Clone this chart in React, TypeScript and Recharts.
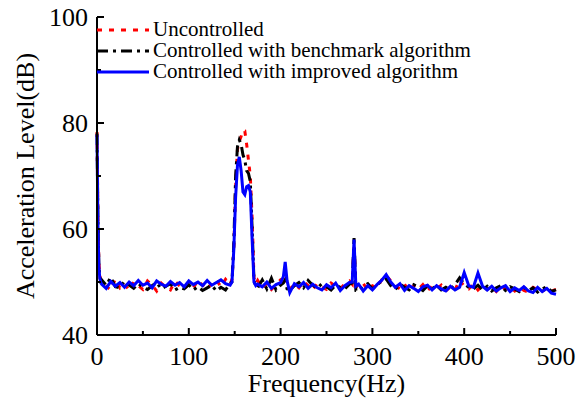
import React from 'react';
import { LineChart, Line, XAxis, YAxis, Legend } from 'recharts';

// frequency grid (Hz), denser around the peaks
const freqs = [
  0, 1, 2, 3, 4,
  5, 10, 15, 20, 25, 30, 35, 40, 45, 50, 55, 60, 65, 70, 75, 80, 85, 90, 95, 100, 105, 110, 115, 120, 125, 130, 135, 140, 145,
  147, 149, 151, 153, 155, 157, 159, 161, 163, 165, 167, 169, 171, 173,
  175, 180, 185, 190, 195, 200,
  203, 205, 207,
  210, 215, 220, 225, 230, 235, 240, 245, 250, 255, 260, 265, 270, 275,
  278, 280, 282,
  285, 290, 295, 300, 305, 310, 315, 320, 325, 330, 335, 340, 345, 350, 355, 360, 365, 370, 375, 380, 385, 390, 395, 400,
  405, 410, 415, 420, 425, 430, 435, 440, 445, 450, 455, 460, 465, 470, 475, 480, 485, 490, 495, 500,
];

const uncontrolled = [
  78.3, 63, 54, 51.3, 50.5,
  49.8, 49.2, 48.5, 50.6, 48.9, 49.7, 48.4, 50.0, 49.3, 48.6, 50.2, 49.4, 48.3, 49.8, 49.0, 48.5, 50.1, 49.3, 48.7, 49.7, 48.9, 50.3, 49.4, 48.6, 49.8, 50.4, 49.1, 50.5, 49.5,
  50.5, 56, 68, 75, 76.5, 77.5, 78.6, 78.5, 76, 73, 70, 62, 50.8, 49.6,
  50.3, 48.9, 49.7, 48.6, 49.5, 50.4,
  50.2, 51.2, 49.6,
  48.6, 49.6, 48.9, 50.1, 49.3, 48.5, 49.7, 49.0, 48.6, 49.8, 49.2, 48.7, 49.7, 50.2,
  49.6, 57.2, 49.3,
  49.0, 49.7, 48.5, 49.3, 48.9, 50.4, 51.2, 50.2, 49.4, 48.7, 49.6, 48.3, 49.3, 48.6, 49.5, 48.4, 49.2, 48.7, 49.4, 48.3, 49.1, 48.5, 50.4, 49.2,
  48.7, 49.6, 48.5, 49.3, 48.6, 49.1, 48.2, 49.2, 48.6, 49.0, 48.3, 49.1, 48.4, 48.1, 49.0, 48.5, 48.2, 48.9, 48.3, 48.6,
];

const benchmark = [
  78, 62, 53.5, 51, 50.2,
  50.4, 49.4, 50.9, 49.1, 48.9, 50.2, 49.4, 48.8, 49.7, 49.0, 48.6, 49.3, 49.9, 48.7, 49.2, 49.7, 48.5, 49.0, 48.7, 49.5, 48.5, 49.1, 48.4, 48.9, 49.4, 48.3, 49.0, 48.5, 49.7,
  50, 57, 70, 75.5, 76.8, 76, 74, 73, 71, 70.5, 69, 60, 50.3, 49.2,
  48.9, 50.4, 48.7, 50.7, 48.5, 49.4,
  49.8, 50.4, 48.7,
  48.4, 49.3, 49.9, 48.9, 50.3, 49.4, 48.8, 49.7, 49.1, 48.5, 49.4, 49.0, 48.7, 49.6,
  49.8, 58.3, 48.4,
  48.3, 49.2, 49.7, 48.7, 49.4, 50.2, 50.6, 49.3, 48.6, 49.6, 49.0, 48.5, 49.5, 49.0, 48.4, 49.3, 48.7, 49.4, 48.5, 49.0, 48.6, 49.5, 50.8, 49.6,
  49.0, 48.7, 49.4, 48.5, 49.2, 48.3, 48.9, 49.3, 48.4, 49.1, 48.7, 48.2, 49.0, 48.4, 48.9, 48.1, 48.7, 49.1, 48.2, 48.5,
];

const improved = [
  77.8, 61, 53, 50.8, 50.0,
  49.6, 48.8, 50.1, 49.2, 49.9, 49.0, 50.0, 49.3, 50.3, 49.4, 49.8, 48.9, 50.2, 49.6, 49.2, 50.1, 49.4, 49.9, 49.1, 50.2, 49.5, 50.0, 49.3, 50.3, 49.4, 49.9, 50.4, 49.7, 49.4,
  50, 56, 66, 72, 73.6, 71, 67, 66.5, 68, 68.2, 67, 58, 50.0, 49.3,
  49.6, 49.1, 50.0, 48.8, 49.5, 49.9,
  51.0, 53.8, 50.3,
  48.0, 49.7, 49.1, 49.9, 48.8, 49.6, 48.9, 48.5, 49.5, 48.9, 49.8, 48.4, 49.3, 49.9,
  50.0, 58.0, 49.2,
  49.6, 48.3, 49.3, 48.5, 49.5, 50.3, 51.4, 50.0, 49.0, 49.7, 48.4, 49.3, 48.8, 48.2, 49.1, 49.4, 48.5, 49.3, 48.7, 48.3, 49.2, 48.5, 49.0, 51.8,
  49.3, 49.0, 51.7, 49.2, 48.5, 49.2, 48.3, 48.9, 49.3, 48.2, 48.9, 48.4, 49.1, 48.3, 48.0, 49.0, 48.2, 48.8, 47.9, 47.7,
];

const xTicks = [0, 50, 100, 150, 200, 250, 300, 350, 400, 450, 500];
const yTicks = [40, 50, 60, 70, 80, 90, 100];

const series = [
  { key: 'uncontrolled', name: 'Uncontrolled', color: '#ff0000', dash: '5 7' },
  { key: 'benchmark', name: 'Controlled with benchmark algorithm', color: '#000000', dash: '11 5 3 5' },
  { key: 'improved', name: 'Controlled with improved algorithm', color: '#0000ff', dash: undefined },
];

const data = freqs.map((f, i) => ({
  freq: f,
  uncontrolled: uncontrolled[i],
  benchmark: benchmark[i],
  improved: improved[i],
}));

const FONT = '"Liberation Serif", "Times New Roman", serif';

const XTick = ({ x, y, payload }: any) => {
  const major = payload.value % 100 === 0;
  return (
    <g>
      <line x1={x} x2={x} y1={y} y2={y - (major ? 7 : 4)} stroke="#000" strokeWidth={2} />
      {major && (
        <text x={x} y={y + 30} textAnchor="middle" fontFamily={FONT} fontSize={26} fill="#000">
          {payload.value}
        </text>
      )}
    </g>
  );
};

const YTick = ({ x, y, payload }: any) => {
  const major = payload.value % 20 === 0;
  return (
    <g>
      <line x1={x} x2={x + (major ? 7 : 4)} y1={y} y2={y} stroke="#000" strokeWidth={2} />
      {major && (
        <text x={x - 9} y={y + 9} textAnchor="end" fontFamily={FONT} fontSize={26} fill="#000">
          {payload.value}
        </text>
      )}
    </g>
  );
};

const LegendBox = () => (
  <div style={{ fontFamily: FONT, fontSize: 21, lineHeight: '21px', color: '#000' }}>
    {series.map(s => (
      <div key={s.key} style={{ display: 'flex', alignItems: 'center', whiteSpace: 'nowrap' }}>
        <svg width={56} height={21}>
          <line x1={0} x2={52} y1={11} y2={11} stroke={s.color} strokeWidth={3} strokeDasharray={s.dash} />
        </svg>
        <span>{s.name}</span>
      </div>
    ))}
  </div>
);

export default function App() {
  return (
    <div style={{ position: 'absolute', left: 0, top: 0, width: 576, height: 401, background: '#fff' }}>
      <LineChart width={576} height={401} data={data} margin={{ top: 17, right: 20, left: 17, bottom: 6 }}>
        <XAxis
          dataKey="freq"
          type="number"
          domain={[0, 500]}
          ticks={xTicks}
          interval={0}
          height={60}
          tickSize={0}
          tickMargin={0}
          tick={<XTick />}
          axisLine={{ stroke: '#000', strokeWidth: 2 }}
          tickLine={false}
          label={{
            content: ({ viewBox }: any) => (
              <text
                x={viewBox.x + viewBox.width / 2}
                y={viewBox.y + 57}
                textAnchor="middle"
                fontFamily={FONT}
                fontSize={26}
                fill="#000"
              >
                Frequency(Hz)
              </text>
            ),
          }}
        />
        <XAxis xAxisId="top" dataKey="freq" type="number" domain={[0, 500]} orientation="top" height={0} tick={false} tickLine={false} axisLine={{ stroke: '#000', strokeWidth: 2 }} />
        <YAxis
          type="number"
          domain={[40, 100]}
          ticks={yTicks}
          interval={0}
          width={80}
          tickSize={0}
          tickMargin={0}
          tick={<YTick />}
          axisLine={{ stroke: '#000', strokeWidth: 2 }}
          tickLine={false}
          label={{
            content: ({ viewBox }: any) => {
              const cx = viewBox.x + 8;
              const cy = viewBox.y + viewBox.height / 2;
              return (
                <text
                  x={cx}
                  y={cy}
                  transform={`rotate(-90 ${cx} ${cy})`}
                  textAnchor="middle"
                  dominantBaseline="central"
                  fontFamily={FONT}
                  fontSize={26}
                  fill="#000"
                >
                  Acceleration Level(dB)
                </text>
              );
            },
          }}
        />
        <YAxis yAxisId="right" type="number" domain={[40, 100]} orientation="right" width={0} tick={false} tickLine={false} axisLine={{ stroke: '#000', strokeWidth: 2 }} />
        <Legend
          layout="horizontal"
          verticalAlign="middle"
          align="center"
          content={<LegendBox />}
          wrapperStyle={{ top: 19, left: 97, width: 'auto', height: 'auto' }}
        />
        {series.map(s => (
          <Line
            key={s.key}
            type="linear"
            dataKey={s.key}
            name={s.name}
            stroke={s.color}
            strokeWidth={3}
            strokeDasharray={s.dash}
            dot={false}
            isAnimationActive={false}
          />
        ))}
      </LineChart>
    </div>
  );
}
